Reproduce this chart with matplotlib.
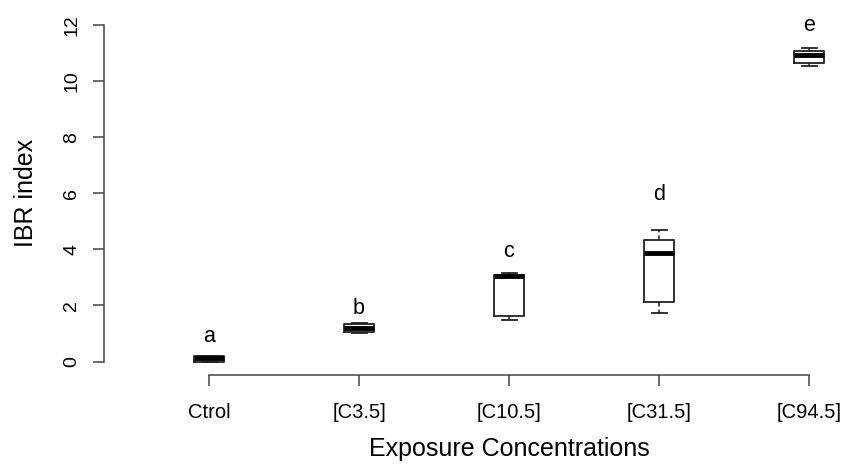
import matplotlib
matplotlib.use("Agg")
import matplotlib.pyplot as plt

plt.rcParams['font.family'] = ['Liberation Sans', 'DejaVu Sans']

groups = ["Ctrol", "[C3.5]", "[C10.5]", "[C31.5]", "[C94.5]"]
whis_lo = [0.00, 1.02, 1.48, 1.74, 10.54]
q1 = [0.00, 1.07, 1.61, 2.11, 10.66]
medians = [0.11, 1.21, 3.04, 3.86, 10.94]
q3 = [0.19, 1.33, 3.10, 4.33, 11.07]
whis_hi = [0.20, 1.36, 3.17, 4.70, 11.17]
letters = ["a", "b", "c", "d", "e"]
letter_y = [0.90, 1.88, 3.92, 5.95, 11.97]

line_col = "#222222"

fig = plt.figure(figsize=(8.43, 4.65), dpi=100)
ax = fig.add_axes([104 / 843, 90 / 465, 810 / 843, 363.4 / 465])

stats = []
for i in range(len(groups)):
    stats.append({"whislo": whis_lo[i], "q1": q1[i], "med": medians[i],
                  "q3": q3[i], "whishi": whis_hi[i], "fliers": []})

pos = list(range(1, len(groups) + 1))
ax.bxp(stats, positions=pos, widths=0.2, showfliers=False,
       boxprops=dict(color=line_col, linewidth=1.3),
       medianprops=dict(color="black", linewidth=3.5, solid_capstyle="butt"),
       whiskerprops=dict(color=line_col, linewidth=1.1, linestyle=(0, (3, 2))),
       capprops=dict(color=line_col, linewidth=1.3),
       capwidths=0.1)

for p, lab, y in zip(pos, letters, letter_y):
    ax.text(p, y, lab, ha="center", va="center", fontsize=15.5, color="black")

ax.set_xlim(0.3, 5.7)
ax.set_ylim(-0.48, 12.48)

for s in ["top", "right"]:
    ax.spines[s].set_visible(False)
ax.spines["left"].set_bounds(0, 12)
ax.spines["bottom"].set_bounds(1, 5)
for s in ["left", "bottom"]:
    ax.spines[s].set_color("#444444")
    ax.spines[s].set_linewidth(1.1)

ax.set_xticks(pos)
ax.set_xticklabels(groups)
ax.set_yticks(range(0, 13, 2))
ax.tick_params(axis="x", length=8, width=1.1, color="#444444", pad=12.5, labelsize=14.5)
ax.tick_params(axis="y", length=8, width=1.1, color="#444444", pad=9, labelsize=14)
for t in ax.get_yticklabels():
    t.set_rotation(90)
    t.set_va("center")

ax.set_xlabel("Exposure Concentrations", fontsize=18)
ax.set_ylabel("IBR index", fontsize=18)
ax.xaxis.set_label_coords(0.5, -0.17)
ax.yaxis.set_label_coords(-0.082, 0.5)

fig.savefig("out.png", dpi=100)
